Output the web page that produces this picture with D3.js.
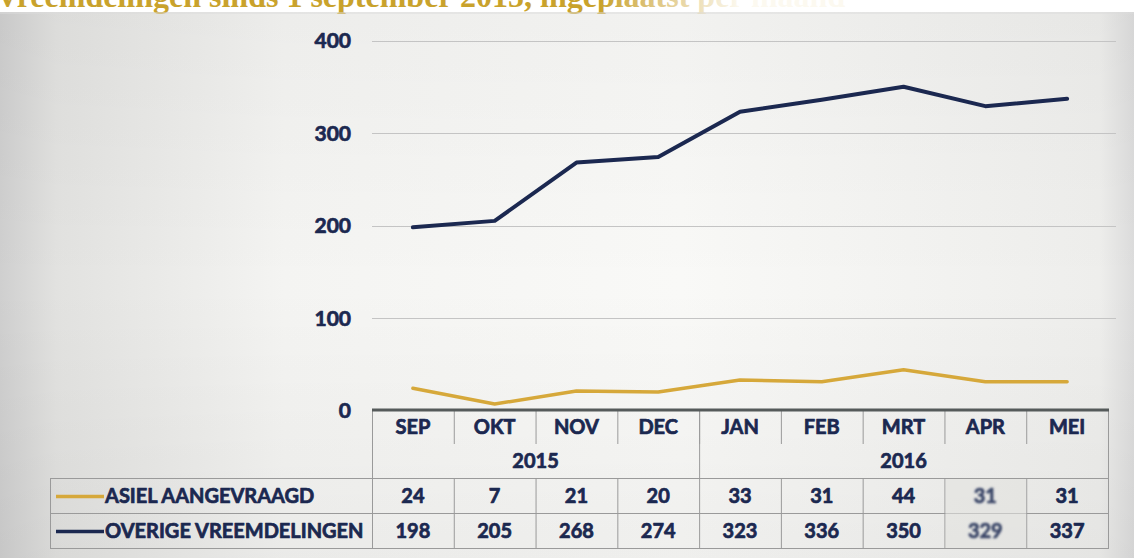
<!DOCTYPE html>
<html>
<head>
<meta charset="utf-8">
<script src="https://cdn.jsdelivr.net/npm/d3@7"></script>
<style>
  html, body { margin: 0; padding: 0; background: #ffffff; }
  svg { display: block; }
  .lbl { paint-order: stroke; stroke-linejoin: round; }
</style>
</head>
<body>
<svg id="chart" width="1134" height="558"></svg>
<script>
// Maandelijkse aantallen vreemdelingen, september 2015 t/m mei 2016
const months = ["SEP", "OKT", "NOV", "DEC", "JAN", "FEB", "MRT", "APR", "MEI"];
const years = [
  { label: "2015", from: 0, to: 4 },
  { label: "2016", from: 4, to: 9 }
];
const asiel = [24, 7, 21, 20, 33, 31, 44, 31, 31];
const overige = [198, 205, 268, 274, 323, 336, 350, 329, 337];
const seriesNames = ["ASIEL AANGEVRAAGD", "OVERIGE VREEMDELINGEN"];
const yTicks = [0, 100, 200, 300, 400];
const titleText = "Vreemdelingen sinds 1 september 2015, ingeplaatst per maand";

const W = 1134, H = 558;
const navy = "#1b2850";
const gold = "#d6a83a";
const labelFont = "Lato, 'Open Sans', sans-serif";

const svg = d3.select("#chart");
const defs = svg.append("defs");

// page background: scanned paper, darker towards the left edge
const bg = defs.append("linearGradient").attr("id", "paper").attr("x1", 0).attr("x2", 1).attr("y1", 0).attr("y2", 0);
bg.append("stop").attr("offset", "0").attr("stop-color", "#cfcfcf");
bg.append("stop").attr("offset", "0.05").attr("stop-color", "#e2e2e0");
bg.append("stop").attr("offset", "0.25").attr("stop-color", "#f4f4f2");
bg.append("stop").attr("offset", "0.6").attr("stop-color", "#f9f9f7");
bg.append("stop").attr("offset", "0.97").attr("stop-color", "#eeeeec");
bg.append("stop").attr("offset", "1").attr("stop-color", "#dcdcdc");

const vshade = defs.append("linearGradient").attr("id", "vshade").attr("x1", 0).attr("x2", 0).attr("y1", 0).attr("y2", 1);
vshade.append("stop").attr("offset", "0").attr("stop-color", "#000").attr("stop-opacity", 0.03);
vshade.append("stop").attr("offset", "0.5").attr("stop-color", "#000").attr("stop-opacity", 0);
vshade.append("stop").attr("offset", "1").attr("stop-color", "#000").attr("stop-opacity", 0.04);

svg.append("rect").attr("x", 0).attr("y", 0).attr("width", W).attr("height", H).attr("fill", "#ffffff");
svg.append("rect").attr("x", 0).attr("y", 12).attr("width", W).attr("height", H - 12).attr("fill", "url(#paper)");
svg.append("rect").attr("x", 0).attr("y", 12).attr("width", W).attr("height", H - 12).attr("fill", "url(#vshade)");

// heading, fading out towards the right
const tg = defs.append("linearGradient").attr("id", "titleFade").attr("gradientUnits", "userSpaceOnUse")
  .attr("x1", 600).attr("x2", 740).attr("y1", 0).attr("y2", 0);
tg.append("stop").attr("offset", "0").attr("stop-color", "#c9a22c");
tg.append("stop").attr("offset", "0.35").attr("stop-color", "#dcc27a");
tg.append("stop").attr("offset", "1").attr("stop-color", "#fcf9f0");
svg.append("text")
  .attr("x", -4).attr("y", 7)
  .attr("font-family", "'Liberation Serif', 'DejaVu Serif', serif")
  .attr("font-weight", "bold")
  .attr("font-size", 32)
  .attr("fill", "url(#titleFade)")
  .text(titleText);
svg.append("rect").attr("x", 0).attr("y", 12).attr("width", W).attr("height", 2).attr("fill", "#dcdcdc").attr("opacity", 0.5);

// scales
const left = 372, right = 1108;
const x = d3.scaleBand().domain(months).range([left, right]).paddingInner(0).paddingOuter(0);
const y = d3.scaleLinear().domain([0, 400]).range([410.5, 40.5]);
const cx = m => x(m) + x.bandwidth() / 2;

// gridlines
svg.append("g").selectAll("line").data(yTicks.filter(t => t > 0)).join("line")
  .attr("x1", left).attr("x2", right + 8)
  .attr("y1", d => Math.round(y(d)) + 0.5).attr("y2", d => Math.round(y(d)) + 0.5)
  .attr("stroke", "#c4c4c4").attr("stroke-width", 1.2);

// shared style for heavy navy labels
const heavy = (sel, size) => sel
  .attr("class", "lbl")
  .attr("font-family", labelFont).attr("font-weight", "700").attr("font-size", size)
  .attr("fill", navy).attr("stroke", navy).attr("stroke-width", 0.7);

// y axis labels
const yAxis = d3.axisLeft(y).tickValues(yTicks).tickSize(0).tickPadding(0);
const yg = svg.append("g").attr("transform", "translate(351,0)").call(yAxis);
yg.select(".domain").remove();
yg.selectAll("text").call(heavy, 21).attr("dy", "0.35em");

// table lines
const tableLine = "#9a9a9a";
const rowTop = 478, rowMid = 513, rowBot = 548, legendLeft = 50;
const tg2 = svg.append("g").attr("stroke", tableLine).attr("stroke-width", 1);
// month separators
tg2.selectAll("line.m").data(months.slice(1)).join("line")
  .attr("x1", d => x(d) + 0.5).attr("x2", d => x(d) + 0.5)
  .attr("y1", 411).attr("y2", 444);
// year separators
tg2.selectAll("line.y").data(years.slice(1)).join("line")
  .attr("x1", d => x(months[d.from]) + 0.5).attr("x2", d => x(months[d.from]) + 0.5)
  .attr("y1", 411).attr("y2", rowTop);
// outer vertical borders
tg2.append("line").attr("x1", left + 0.5).attr("x2", left + 0.5).attr("y1", 410).attr("y2", rowBot);
tg2.append("line").attr("x1", right + 0.5).attr("x2", right + 0.5).attr("y1", 410).attr("y2", rowBot);
tg2.append("line").attr("x1", legendLeft + 0.5).attr("x2", legendLeft + 0.5).attr("y1", rowTop).attr("y2", rowBot);
// horizontal rules
[rowTop, rowMid, rowBot].forEach(yy => {
  tg2.append("line").attr("x1", legendLeft).attr("x2", right + 1).attr("y1", yy + 0.5).attr("y2", yy + 0.5);
});
// data cells between column separators
tg2.selectAll("line.d").data(months.slice(1)).join("line")
  .attr("x1", d => x(d) + 0.5).attr("x2", d => x(d) + 0.5)
  .attr("y1", rowTop).attr("y2", rowBot);

// APR cells look smudged in print
const smudge = defs.append("filter").attr("id", "smudge");
smudge.append("feGaussianBlur").attr("stdDeviation", 0.8);
svg.append("rect").attr("x", x("APR") + 1).attr("y", rowTop + 1)
  .attr("width", x.bandwidth() - 1).attr("height", rowBot - rowTop - 1)
  .attr("fill", "#e2e2e0").attr("opacity", 0.6);

// x axis base line
svg.append("line").attr("x1", left).attr("x2", right + 1).attr("y1", 410).attr("y2", 410)
  .attr("stroke", "#555a5a").attr("stroke-width", 3);

// month labels
svg.append("g").selectAll("text").data(months).join("text")
  .attr("x", d => cx(d)).attr("y", 427).attr("dy", "0.35em")
  .attr("text-anchor", "middle")
  .call(heavy, 20).text(d => d);

// year labels
svg.append("g").selectAll("text").data(years).join("text")
  .attr("x", d => (x(months[d.from]) + x(months[d.to - 1]) + x.bandwidth()) / 2)
  .attr("y", 461).attr("dy", "0.35em")
  .attr("text-anchor", "middle")
  .call(heavy, 20).text(d => d.label);

// legend keys inside the table
const seriesData = [
  { name: seriesNames[0], values: asiel, color: gold, rowY: (rowTop + rowMid) / 2 },
  { name: seriesNames[1], values: overige, color: navy, rowY: (rowMid + rowBot) / 2 }
];
const lg = svg.append("g");
lg.selectAll("line").data(seriesData).join("line")
  .attr("x1", 56).attr("x2", 104)
  .attr("y1", d => d.rowY + 1).attr("y2", d => d.rowY + 1)
  .attr("stroke", d => d.color).attr("stroke-width", 3.5);
lg.selectAll("text").data(seriesData).join("text")
  .attr("x", 105).attr("y", d => d.rowY).attr("dy", "0.35em")
  .call(heavy, 20).text(d => d.name);

// values row per series
seriesData.forEach(s => {
  svg.append("g").selectAll("text").data(s.values).join("text")
    .attr("x", (d, i) => cx(months[i])).attr("y", s.rowY).attr("dy", "0.35em")
    .attr("text-anchor", "middle")
    .call(heavy, 20)
    .attr("fill", (d, i) => months[i] === "APR" ? "#3a4668" : navy)
    .attr("stroke", (d, i) => months[i] === "APR" ? "#3a4668" : navy)
    .attr("filter", (d, i) => months[i] === "APR" ? "url(#smudge)" : null)
    .text(d => d);
});

// series lines
const line = d3.line().x((d, i) => cx(months[i])).y(d => y(d));
seriesData.forEach(s => {
  svg.append("path").datum(s.values)
    .attr("d", line)
    .attr("fill", "none")
    .attr("stroke", s.color)
    .attr("stroke-width", s.color === navy ? 4 : 3.5)
    .attr("stroke-linejoin", "round")
    .attr("stroke-linecap", "round");
});
</script>
</body>
</html>
